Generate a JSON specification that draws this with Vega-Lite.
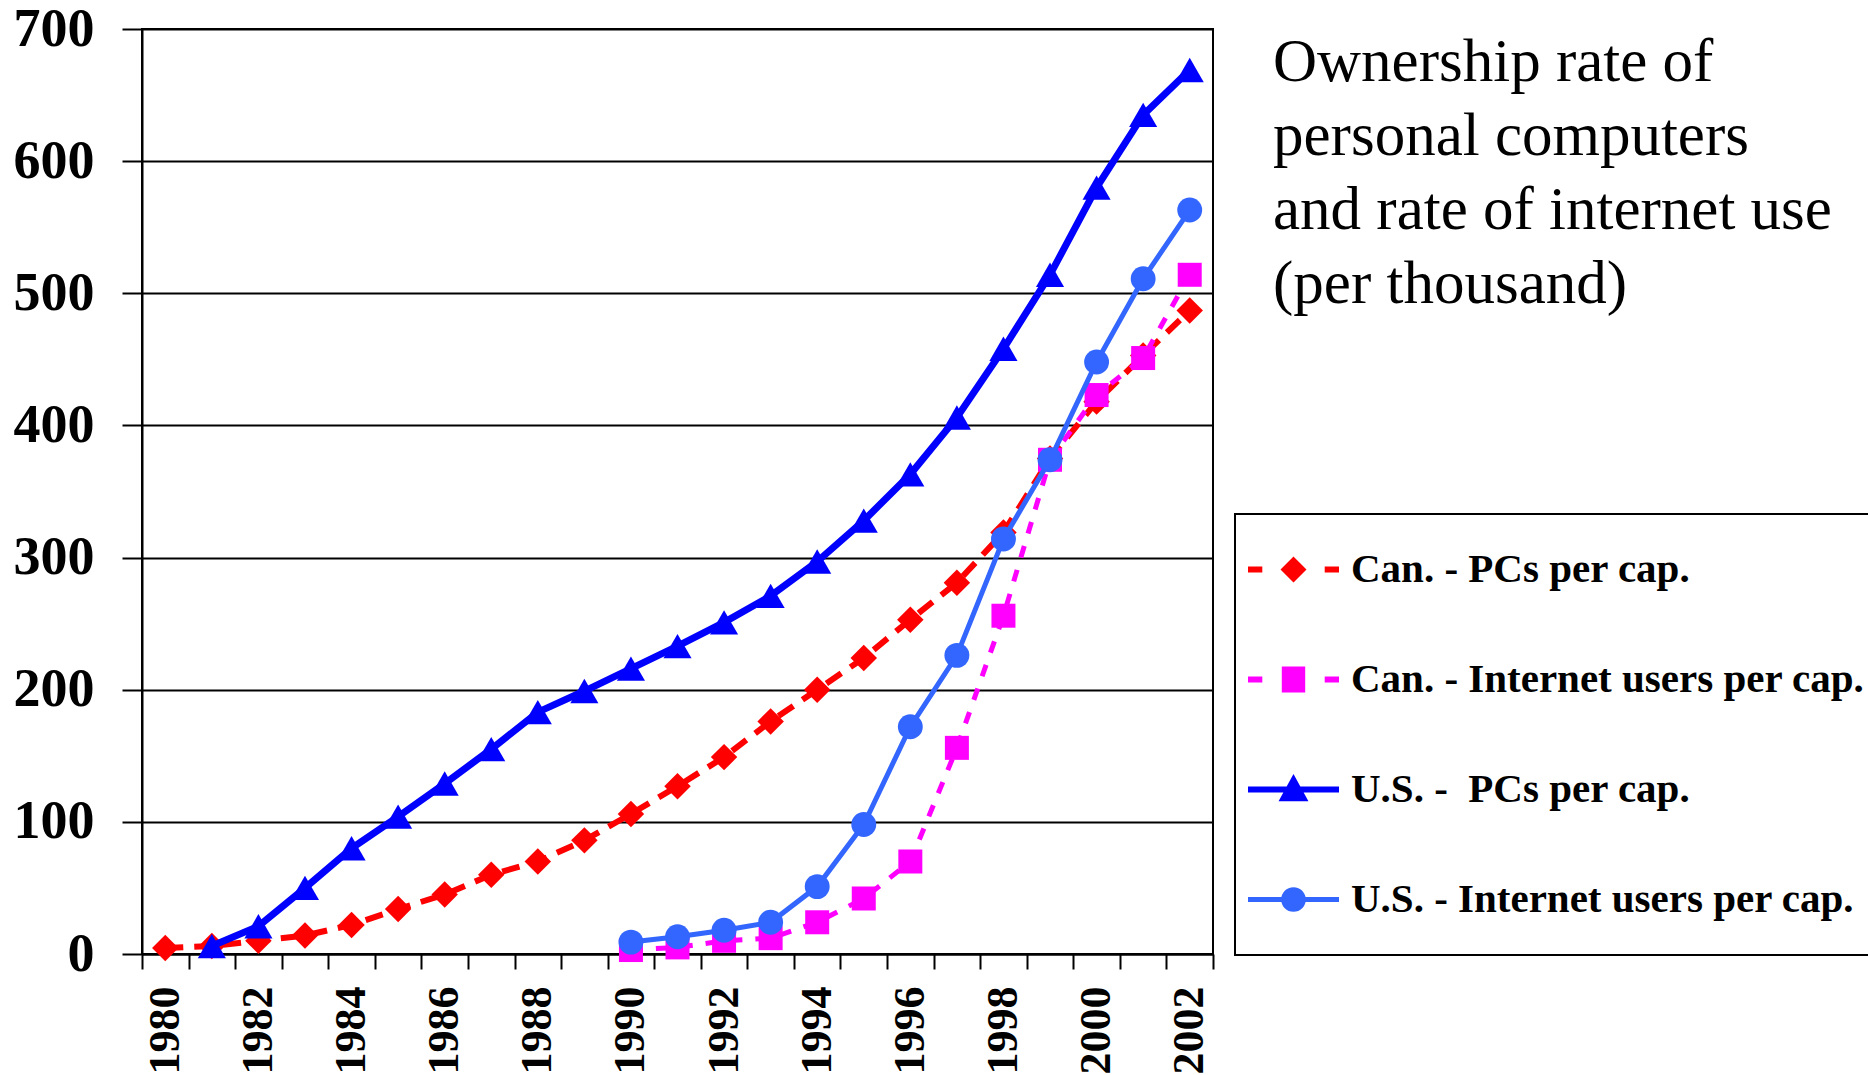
{
  "$schema": "https://vega.github.io/schema/vega-lite/v6.json",
  "autosize": {"type": "none"},
  "width": 1071,
  "height": 925,
  "padding": {"left": 142, "top": 29, "right": 655, "bottom": 121},
  "background": "white",
  "config": {
    "font": "Liberation Serif",
    "view": {"stroke": "black", "strokeWidth": 2}
  },
  "title": {
    "text": ["Ownership rate of", "personal computers", "and rate of internet use", "(per thousand)"],
    "anchor": "start",
    "frame": "group",
    "orient": "top",
    "align": "left",
    "baseline": "top",
    "dx": 1131,
    "dy": 314,
    "offset": 0,
    "font": "Liberation Serif",
    "fontSize": 61,
    "fontWeight": "normal",
    "color": "black",
    "lineHeight": 74
  },
  "data": {
    "values": [
      {"year": 1980, "series": "Can. - PCs per cap.", "value": 4.5},
      {"year": 1981, "series": "Can. - PCs per cap.", "value": 6},
      {"year": 1982, "series": "Can. - PCs per cap.", "value": 10},
      {"year": 1983, "series": "Can. - PCs per cap.", "value": 14},
      {"year": 1984, "series": "Can. - PCs per cap.", "value": 22},
      {"year": 1985, "series": "Can. - PCs per cap.", "value": 34},
      {"year": 1986, "series": "Can. - PCs per cap.", "value": 45},
      {"year": 1987, "series": "Can. - PCs per cap.", "value": 60},
      {"year": 1988, "series": "Can. - PCs per cap.", "value": 70},
      {"year": 1989, "series": "Can. - PCs per cap.", "value": 86},
      {"year": 1990, "series": "Can. - PCs per cap.", "value": 106},
      {"year": 1991, "series": "Can. - PCs per cap.", "value": 127},
      {"year": 1992, "series": "Can. - PCs per cap.", "value": 149},
      {"year": 1993, "series": "Can. - PCs per cap.", "value": 176},
      {"year": 1994, "series": "Can. - PCs per cap.", "value": 200},
      {"year": 1995, "series": "Can. - PCs per cap.", "value": 224},
      {"year": 1996, "series": "Can. - PCs per cap.", "value": 253},
      {"year": 1997, "series": "Can. - PCs per cap.", "value": 281},
      {"year": 1998, "series": "Can. - PCs per cap.", "value": 319},
      {"year": 1999, "series": "Can. - PCs per cap.", "value": 375},
      {"year": 2000, "series": "Can. - PCs per cap.", "value": 418},
      {"year": 2001, "series": "Can. - PCs per cap.", "value": 453},
      {"year": 2002, "series": "Can. - PCs per cap.", "value": 487},
      {"year": 1990, "series": "Can. - Internet users per cap.", "value": 3},
      {"year": 1991, "series": "Can. - Internet users per cap.", "value": 5},
      {"year": 1992, "series": "Can. - Internet users per cap.", "value": 10},
      {"year": 1993, "series": "Can. - Internet users per cap.", "value": 12},
      {"year": 1994, "series": "Can. - Internet users per cap.", "value": 24},
      {"year": 1995, "series": "Can. - Internet users per cap.", "value": 42},
      {"year": 1996, "series": "Can. - Internet users per cap.", "value": 70},
      {"year": 1997, "series": "Can. - Internet users per cap.", "value": 156},
      {"year": 1998, "series": "Can. - Internet users per cap.", "value": 256},
      {"year": 1999, "series": "Can. - Internet users per cap.", "value": 374},
      {"year": 2000, "series": "Can. - Internet users per cap.", "value": 423},
      {"year": 2001, "series": "Can. - Internet users per cap.", "value": 451},
      {"year": 2002, "series": "Can. - Internet users per cap.", "value": 514},
      {"year": 1981, "series": "U.S. - \u00a0PCs per cap.", "value": 6},
      {"year": 1982, "series": "U.S. - \u00a0PCs per cap.", "value": 21},
      {"year": 1983, "series": "U.S. - \u00a0PCs per cap.", "value": 50},
      {"year": 1984, "series": "U.S. - \u00a0PCs per cap.", "value": 80},
      {"year": 1985, "series": "U.S. - \u00a0PCs per cap.", "value": 104},
      {"year": 1986, "series": "U.S. - \u00a0PCs per cap.", "value": 129},
      {"year": 1987, "series": "U.S. - \u00a0PCs per cap.", "value": 155},
      {"year": 1988, "series": "U.S. - \u00a0PCs per cap.", "value": 183},
      {"year": 1989, "series": "U.S. - \u00a0PCs per cap.", "value": 199},
      {"year": 1990, "series": "U.S. - \u00a0PCs per cap.", "value": 216},
      {"year": 1991, "series": "U.S. - \u00a0PCs per cap.", "value": 233},
      {"year": 1992, "series": "U.S. - \u00a0PCs per cap.", "value": 251},
      {"year": 1993, "series": "U.S. - \u00a0PCs per cap.", "value": 271},
      {"year": 1994, "series": "U.S. - \u00a0PCs per cap.", "value": 297},
      {"year": 1995, "series": "U.S. - \u00a0PCs per cap.", "value": 328},
      {"year": 1996, "series": "U.S. - \u00a0PCs per cap.", "value": 363},
      {"year": 1997, "series": "U.S. - \u00a0PCs per cap.", "value": 406},
      {"year": 1998, "series": "U.S. - \u00a0PCs per cap.", "value": 458},
      {"year": 1999, "series": "U.S. - \u00a0PCs per cap.", "value": 514},
      {"year": 2000, "series": "U.S. - \u00a0PCs per cap.", "value": 580},
      {"year": 2001, "series": "U.S. - \u00a0PCs per cap.", "value": 635},
      {"year": 2002, "series": "U.S. - \u00a0PCs per cap.", "value": 669},
      {"year": 1990, "series": "U.S. - Internet users per cap.", "value": 9},
      {"year": 1991, "series": "U.S. - Internet users per cap.", "value": 13},
      {"year": 1992, "series": "U.S. - Internet users per cap.", "value": 18},
      {"year": 1993, "series": "U.S. - Internet users per cap.", "value": 24},
      {"year": 1994, "series": "U.S. - Internet users per cap.", "value": 51},
      {"year": 1995, "series": "U.S. - Internet users per cap.", "value": 98},
      {"year": 1996, "series": "U.S. - Internet users per cap.", "value": 172},
      {"year": 1997, "series": "U.S. - Internet users per cap.", "value": 226},
      {"year": 1998, "series": "U.S. - Internet users per cap.", "value": 314},
      {"year": 1999, "series": "U.S. - Internet users per cap.", "value": 374},
      {"year": 2000, "series": "U.S. - Internet users per cap.", "value": 448},
      {"year": 2001, "series": "U.S. - Internet users per cap.", "value": 511},
      {"year": 2002, "series": "U.S. - Internet users per cap.", "value": 563}
    ]
  },
  "encoding": {
    "x": {
      "field": "year",
      "type": "ordinal",
      "scale": {
        "type": "band",
        "paddingInner": 0,
        "paddingOuter": 0,
        "domain": [1980, 1981, 1982, 1983, 1984, 1985, 1986, 1987, 1988, 1989, 1990, 1991, 1992, 1993, 1994, 1995, 1996, 1997, 1998, 1999, 2000, 2001, 2002]
      },
      "axis": {
        "title": null,
        "tickBand": "extent",
        "labelExpr": "datum.value % 2 == 0 ? datum.label : ''",
        "labelAngle": -90,
        "labelAlign": "right",
        "labelBaseline": "middle",
        "labelFont": "Liberation Serif",
        "labelFontSize": 44,
        "labelFontWeight": "bold",
        "labelColor": "black",
        "labelPadding": 17,
        "labelOverlap": false,
        "labelBound": false,
        "labelFlush": false,
        "tickSize": 15,
        "tickWidth": 2,
        "tickColor": "black",
        "domainColor": "black",
        "domainWidth": 2,
        "grid": false
      }
    },
    "y": {
      "field": "value",
      "type": "quantitative",
      "scale": {"domain": [0, 700], "nice": false, "zero": true},
      "axis": {
        "title": null,
        "values": [0, 100, 200, 300, 400, 500, 600, 700],
        "format": "d",
        "grid": true,
        "gridColor": "black",
        "gridWidth": 2,
        "gridOpacity": 1,
        "tickSize": 20,
        "tickWidth": 2,
        "tickColor": "black",
        "domainColor": "black",
        "domainWidth": 2,
        "labelFont": "Liberation Serif",
        "labelFontSize": 54,
        "labelFontWeight": "bold",
        "labelColor": "black",
        "labelPadding": 28,
        "labelFlush": false,
        "labelBound": false,
        "labelOverlap": false
      }
    }
  },
  "layer": [
    {
      "transform": [{"filter": "datum.series == 'Can. - PCs per cap.'"}],
      "mark": {"type": "line", "color": "#FF0000", "strokeWidth": 6, "strokeDash": [18, 11]}
    },
    {
      "transform": [{"filter": "datum.series == 'Can. - PCs per cap.'"}],
      "mark": {"type": "point", "shape": "diamond", "filled": true, "color": "#FF0000", "opacity": 1, "size": 700}
    },
    {
      "transform": [{"filter": "datum.series == 'Can. - Internet users per cap.'"}],
      "mark": {"type": "line", "color": "#FF00FF", "strokeWidth": 5, "strokeDash": [12, 13]}
    },
    {
      "transform": [{"filter": "datum.series == 'Can. - Internet users per cap.'"}],
      "mark": {"type": "point", "shape": "square", "filled": true, "color": "#FF00FF", "opacity": 1, "size": 576}
    },
    {
      "transform": [{"filter": "indexof(datum.series, 'PCs') > 0 && indexof(datum.series, 'U.S.') == 0"}],
      "mark": {"type": "line", "color": "#0000FF", "strokeWidth": 7}
    },
    {
      "transform": [{"filter": "indexof(datum.series, 'PCs') > 0 && indexof(datum.series, 'U.S.') == 0"}],
      "mark": {"type": "point", "shape": "triangle-up", "filled": true, "color": "#0000FF", "opacity": 1, "size": 790}
    },
    {
      "transform": [{"filter": "datum.series == 'U.S. - Internet users per cap.'"}],
      "mark": {"type": "line", "color": "#3366FF", "strokeWidth": 5}
    },
    {
      "transform": [{"filter": "datum.series == 'U.S. - Internet users per cap.'"}],
      "mark": {"type": "point", "shape": "circle", "filled": true, "color": "#3366FF", "opacity": 1, "size": 620}
    },
    {
      "mark": {"type": "point", "filled": true, "opacity": 0, "size": 676},
      "encoding": {
        "color": {
          "field": "series",
          "type": "nominal",
          "scale": {
            "domain": ["Can. - PCs per cap.", "Can. - Internet users per cap.", "U.S. - \u00a0PCs per cap.", "U.S. - Internet users per cap."],
            "range": ["#FF0000", "#FF00FF", "#0000FF", "#3366FF"]
          },
          "legend": {
            "title": null,
            "orient": "none",
            "legendX": 1093,
            "legendY": 485,
            "strokeColor": "black",
            "padding": 35,
            "symbolOffset": 3,
            "labelOffset": 37,
            "rowPadding": 68,
            "labelFont": "Liberation Serif",
            "labelFontSize": 41,
            "labelFontWeight": "bold",
            "labelColor": "black",
            "labelLimit": 1000,
            "labelBaseline": "middle",
            "symbolSize": 676,
            "symbolStrokeWidth": 0,
            "symbolOpacity": 1,
            "encode": {
              "symbols": {"update": {"opacity": {"value": 1}, "strokeWidth": {"value": 0}}},
              "legend": {"update": {"strokeWidth": {"value": 2}}}
            }
          }
        },
        "shape": {
          "field": "series",
          "type": "nominal",
          "scale": {
            "domain": ["Can. - PCs per cap.", "Can. - Internet users per cap.", "U.S. - \u00a0PCs per cap.", "U.S. - Internet users per cap."],
            "range": [
              "M-3.5,-0.23H-2.4V0.23H-3.5Z M2.4,-0.23H3.5V0.23H2.4Z M0,-1L1,0L0,1L-1,0Z",
              "M-3.5,-0.23H-2.4V0.23H-3.5Z M2.4,-0.23H3.5V0.23H2.4Z M-0.9,-1H0.9V1H-0.9Z",
              "M-3.5,-0.23H3.5V0.23H-3.5Z M0,-1.2L1.15,0.9H-1.15Z",
              "M-3.5,-0.2H3.5V0.2H-3.5Z M-0.95,0A0.95,0.95 0 1,1 0.95,0A0.95,0.95 0 1,1 -0.95,0Z"
            ]
          },
          "legend": {
            "title": null,
            "orient": "none",
            "legendX": 1093,
            "legendY": 485,
            "strokeColor": "black",
            "padding": 35,
            "symbolOffset": 3,
            "labelOffset": 37,
            "rowPadding": 68,
            "labelFont": "Liberation Serif",
            "labelFontSize": 41,
            "labelFontWeight": "bold",
            "labelColor": "black",
            "labelLimit": 1000,
            "labelBaseline": "middle",
            "symbolSize": 676,
            "symbolStrokeWidth": 0,
            "symbolOpacity": 1,
            "encode": {
              "symbols": {"update": {"opacity": {"value": 1}, "strokeWidth": {"value": 0}}},
              "legend": {"update": {"strokeWidth": {"value": 2}}}
            }
          }
        }
      }
    }
  ]
}
